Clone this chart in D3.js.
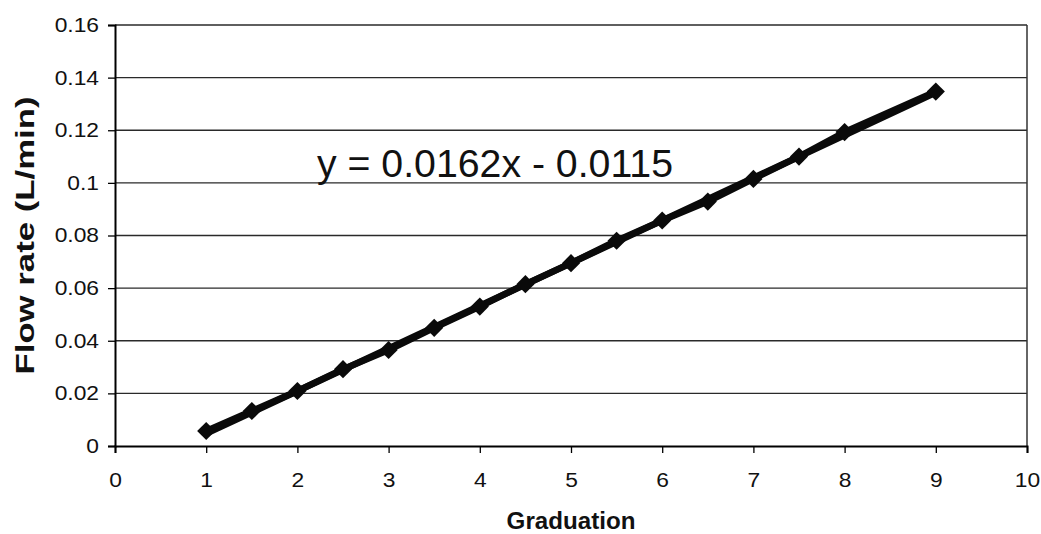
<!DOCTYPE html>
<html>
<head>
<meta charset="utf-8">
<script src="https://cdn.jsdelivr.net/npm/d3@7"></script>
<style>
  html, body { margin: 0; padding: 0; background: #fff; }
  svg { display: block; font-family: Arial, "Liberation Sans", sans-serif; }
</style>
</head>
<body>
<svg id="chart" width="1041" height="534"></svg>
<script>
// Measured flow rate at each graduation setting
const graduation = [1, 1.5, 2, 2.5, 3, 3.5, 4, 4.5, 5, 5.5, 6, 6.5, 7, 7.5, 8, 9];
const flowRate = [0.0057, 0.0133, 0.0209, 0.0292, 0.0365, 0.0449, 0.0530, 0.0615,
                  0.0695, 0.0780, 0.0857, 0.0929, 0.1015, 0.1100, 0.1193, 0.1347];

// Linear fit coefficients shown on the chart
const slope = 0.0162;
const intercept = -0.0115;
const equationLabel = "y = 0.0162x - 0.0115";

const xTicks = [0, 1, 2, 3, 4, 5, 6, 7, 8, 9, 10];
const yTicks = [0, 0.02, 0.04, 0.06, 0.08, 0.1, 0.12, 0.14, 0.16];
const yTickLabels = ["0", "0.02", "0.04", "0.06", "0.08", "0.1", "0.12", "0.14", "0.16"];

const svg = d3.select("#chart");

const x = d3.scaleLinear().domain([0, 10]).range([115, 1027]);
const y = d3.scaleLinear().domain([0, 0.16]).range([446, 25]);

// Widen glyphs horizontally (the typeface used here runs wide)
function widen(sel, factor) {
  sel.each(function () {
    const w = this.getComputedTextLength();
    d3.select(this)
      .attr("textLength", w * factor)
      .attr("lengthAdjust", "spacingAndGlyphs");
  });
}

// Horizontal gridlines
svg.append("g")
  .selectAll("line")
  .data(yTicks.filter(d => d > 0))
  .join("line")
  .attr("x1", x(0)).attr("x2", x(10))
  .attr("y1", d => y(d)).attr("y2", d => y(d))
  .attr("stroke", "#2a2a2a")
  .attr("stroke-width", 1.4);

// Right edge of the plot area
svg.append("line")
  .attr("x1", x(10)).attr("x2", x(10))
  .attr("y1", y(0.16)).attr("y2", y(0))
  .attr("stroke", "#333").attr("stroke-width", 1.5);

// Y axis
const yAxis = d3.axisLeft(y)
  .tickValues(yTicks)
  .tickFormat((d, i) => yTickLabels[i])
  .tickSize(7)
  .tickPadding(9);
const gy = svg.append("g").attr("transform", `translate(${x(0)},0)`).call(yAxis);

// X axis
const xAxis = d3.axisBottom(x)
  .tickValues(xTicks)
  .tickFormat(d3.format("d"))
  .tickSize(7)
  .tickPadding(20);
const gx = svg.append("g").attr("transform", `translate(0,${y(0)})`).call(xAxis);

[gy, gx].forEach(g => {
  g.select(".domain").attr("stroke", "#000").attr("stroke-width", 2);
  g.selectAll(".tick line").attr("stroke", "#000").attr("stroke-width", 1.3);
  g.selectAll(".tick text")
    .attr("fill", "#111")
    .style("font-size", "20px")
    .style("font-family", "Arial, 'Liberation Sans', sans-serif");
  widen(g.selectAll(".tick text"), 1.14);
});
gx.selectAll(".tick text").attr("dy", "0.71em");

// Fitted line from the equation coefficients
svg.append("line")
  .attr("x1", x(1)).attr("y1", y(slope * 1 + intercept))
  .attr("x2", x(9)).attr("y2", y(slope * 9 + intercept))
  .attr("stroke", "#0a0a0a")
  .attr("stroke-width", 6.5)
  .attr("stroke-linecap", "round");

// Data series line
const line = d3.line()
  .x((d, i) => x(graduation[i]))
  .y(d => y(d));
svg.append("path")
  .datum(flowRate)
  .attr("d", line)
  .attr("fill", "none")
  .attr("stroke", "#0a0a0a")
  .attr("stroke-width", 6.5)
  .attr("stroke-linejoin", "round");

// Diamond markers
svg.append("g")
  .selectAll("path")
  .data(flowRate)
  .join("path")
  .attr("transform", (d, i) => `translate(${x(graduation[i])},${y(d)}) rotate(45)`)
  .attr("d", d3.symbol().type(d3.symbolSquare).size(165))
  .attr("fill", "#0a0a0a");

// Equation label
svg.append("text")
  .attr("x", 317)
  .attr("y", 177)
  .attr("fill", "#111")
  .attr("textLength", 356)
  .attr("lengthAdjust", "spacingAndGlyphs")
  .style("font-size", "38px")
  .text(equationLabel);

// Axis titles
svg.append("text")
  .attr("x", x(5))
  .attr("y", 529)
  .attr("text-anchor", "middle")
  .attr("fill", "#111")
  .style("font-size", "23px")
  .style("font-weight", "bold")
  .text("Graduation")
  .call(widen, 1.05);

svg.append("text")
  .attr("transform", `translate(34,${(y(0) + y(0.16)) / 2}) rotate(-90)`)
  .attr("text-anchor", "middle")
  .attr("fill", "#111")
  .attr("textLength", 278)
  .attr("lengthAdjust", "spacingAndGlyphs")
  .style("font-size", "25px")
  .style("font-weight", "bold")
  .text("Flow rate (L/min)");
</script>
</body>
</html>
